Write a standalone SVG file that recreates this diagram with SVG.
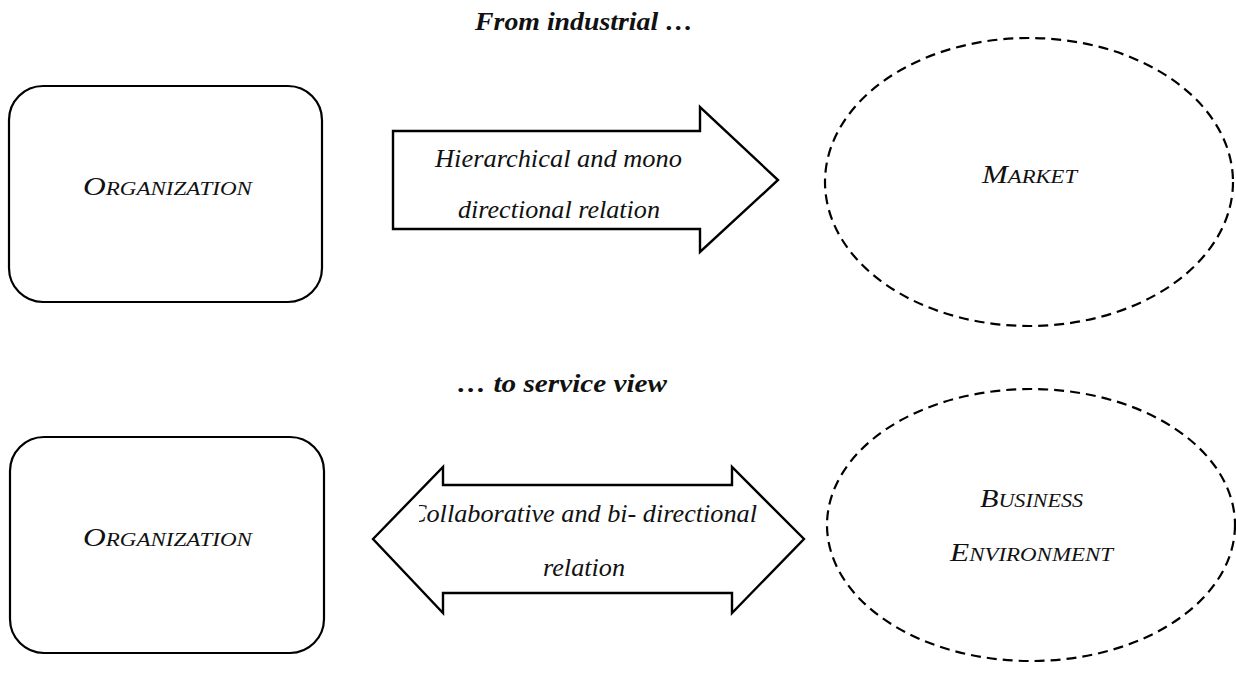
<svg xmlns="http://www.w3.org/2000/svg" width="1236" height="679" viewBox="0 0 1236 679">
<style>
  .box{fill:#fff;stroke:#000;stroke-width:2.2}
  .ell{fill:#fff;stroke:#000;stroke-width:2.2;stroke-dasharray:10 6}
  .arr{fill:#fff;stroke:#000;stroke-width:2.4;stroke-linejoin:miter}
  text{font-family:"Liberation Serif","DejaVu Serif",serif;font-style:italic;fill:#111}
  .head{font-size:26px;font-weight:bold}
  .lbl{font-size:26px}
  .sc{font-size:19px}
  .cap{font-size:26px}
</style>
<defs>
  <clipPath id="clipC"><rect x="419" y="490" width="400" height="110"/></clipPath>
</defs>
<rect width="1236" height="679" fill="#fff"/>
<text class="head" x="475" y="30" textLength="218" lengthAdjust="spacingAndGlyphs">From industrial …</text>
<text class="head" x="457" y="392" textLength="210" lengthAdjust="spacingAndGlyphs">… to service view</text>

<g id="org1">
  <rect class="box" x="9" y="86" width="313" height="216" rx="34"/>
  <text class="sc" x="83" y="195" textLength="169" lengthAdjust="spacingAndGlyphs"><tspan class="cap">O</tspan>RGANIZATION</text>
</g>
<g id="market">
  <ellipse class="ell" cx="1029" cy="182" rx="204" ry="144"/>
  <text class="sc" x="982" y="183" textLength="95" lengthAdjust="spacingAndGlyphs"><tspan class="cap">M</tspan>ARKET</text>
</g>
<g id="org2">
  <rect class="box" x="10" y="437" width="314" height="216" rx="34"/>
  <text class="sc" x="83" y="546" textLength="169" lengthAdjust="spacingAndGlyphs"><tspan class="cap">O</tspan>RGANIZATION</text>
</g>
<g id="business">
  <ellipse class="ell" cx="1031" cy="525" rx="204" ry="136"/>
  <text class="sc" x="980" y="507" textLength="103" lengthAdjust="spacingAndGlyphs"><tspan class="cap">B</tspan>USINESS</text>
  <text class="sc" x="950" y="561" textLength="163" lengthAdjust="spacingAndGlyphs"><tspan class="cap">E</tspan>NVIRONMENT</text>
</g>

<g id="connectors">
  <g id="arrow1">
    <polygon class="arr" points="393,131 700,131 700,107 778,180 700,252 700,229 393,229"/>
    <text class="lbl" x="435" y="167" textLength="247" lengthAdjust="spacingAndGlyphs">Hierarchical and mono</text>
    <text class="lbl" x="458" y="218" textLength="202" lengthAdjust="spacingAndGlyphs">directional relation</text>
  </g>
  <g id="arrow2">
    <polygon class="arr" points="373,539 443,467 443,485 732,485 732,467 804,539 732,613 732,593 443,593 443,613"/>
    <text class="lbl" x="409" y="522" textLength="348" lengthAdjust="spacingAndGlyphs" clip-path="url(#clipC)">Collaborative and bi- directional</text>
    <text class="lbl" x="543" y="576" textLength="82" lengthAdjust="spacingAndGlyphs">relation</text>
  </g>
</g>
</svg>
